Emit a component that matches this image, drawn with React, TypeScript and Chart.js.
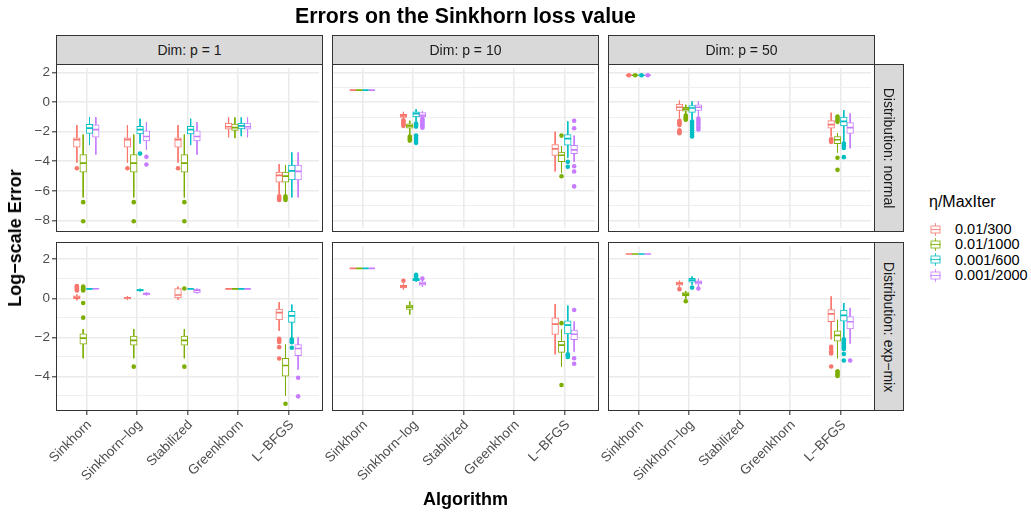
import React, { useEffect, useRef } from "react";
import { Chart, registerables } from "chart.js";
Chart.register(...registerables);

// ---------------- data ----------------
const algorithms = ["Sinkhorn", "Sinkhorn\u2212log", "Stabilized", "Greenkhorn", "L\u2212BFGS"];
const settings = ["0.01/300", "0.01/1000", "0.001/600", "0.001/2000"];
const colors = ["#F8766D", "#7CAE00", "#00BFC4", "#C77CFF"];
const dims = ["Dim: p = 1", "Dim: p = 10", "Dim: p = 50"];
const dists = ["Distribution: normal", "Distribution: exp\u2212mix"];
const yTicksNormal = [-8, -7, -6, -5, -4, -3, -2, -1, 0, 1, 2];
const yTicksExp = [-5, -4, -3, -2, -1, 0, 1, 2];
const yRangeNormal = [-8.52, 2.32];
const yRangeExp = [-5.77, 2.68];

// box stats: [lowerWhisker, q1, median, q3, upperWhisker]; rows = settings, columns = algorithms
const boxNormalP1 = [
  [[-4.09, -3.05, -2.54, -2.41, -1.55], [-4.09, -3.05, -2.54, -2.41, -1.55], [-4.09, -3.05, -2.54, -2.41, -1.55], [-2.37, -1.83, -1.66, -1.42, -1.03], [-6.24, -5.42, -4.95, -4.73, -4.19]],
  [[-6.45, -4.73, -4.13, -3.55, -2.19], [-6.45, -4.73, -4.13, -3.55, -2.19], [-6.45, -4.73, -4.13, -3.55, -2.19], [-2.43, -1.91, -1.72, -1.48, -1.03], [-6.24, -5.42, -5.0, -4.73, -4.25]],
  [[-2.9, -2.11, -1.76, -1.5, -1.01], [-2.8, -2.15, -1.85, -1.63, -1.12], [-2.9, -2.15, -1.85, -1.63, -1.12], [-2.3, -1.8, -1.6, -1.42, -1.03], [-6.45, -5.27, -4.65, -4.26, -3.4]],
  [[-3.55, -2.37, -1.85, -1.53, -1.01], [-3.23, -2.62, -2.32, -1.94, -1.35], [-3.55, -2.62, -2.32, -1.94, -1.35], [-2.37, -1.83, -1.66, -1.42, -1.03], [-6.45, -5.27, -4.69, -4.26, -3.4]],
];
const outNormalP1 = [
  [[-4.47], [-4.47], [-4.47], [], [-6.38, -6.5, -6.62]],
  [[-6.77, -8.06], [-6.77, -8.06], [-6.77, -8.06], [], [-6.38, -6.5, -6.62]],
  [[], [-3.48], [], [], []],
  [[], [-3.7, -4.22], [], [], []],
];

const boxNormalP10 = [
  [[0.82, 0.82, 0.82, 0.82, 0.82], [-1.1, -1.03, -0.93, -0.82, -0.65], null, null, [-4.69, -3.61, -3.16, -2.86, -2.0]],
  [[0.82, 0.82, 0.82, 0.82, 0.82], [-2.19, -1.76, -1.6, -1.46, -1.25], null, null, [-4.8, -4.02, -3.59, -3.38, -2.97]],
  [[0.82, 0.82, 0.82, 0.82, 0.82], [-1.3, -0.99, -0.77, -0.65, -0.47], null, null, [-3.76, -2.9, -2.47, -2.19, -1.29]],
  [[0.82, 0.82, 0.82, 0.82, 0.82], [-1.02, -0.99, -0.88, -0.7, -0.62], null, null, [-4.04, -3.48, -3.23, -2.92, -2.26]],
];
const outNormalP10 = [
  [[], [-1.22, -1.32, -1.42, -1.52, -1.6], [], [], []],
  [[], [-2.32, -2.45, -2.6], [], [], [-2.26, -5.01]],
  [[], [-1.45, -1.55, -1.65, -2.25, -2.4, -2.55, -2.75], [], [], [-4.04, -4.37]],
  [[], [-1.12, -1.22, -1.32, -1.42, -1.52, -1.62, -1.72], [], [], [-1.25, -1.76, -4.34, -4.69, -5.7]],
];

const boxNormalP50 = [
  [[1.83, 1.83, 1.83, 1.83, 1.83], [-1.08, -0.56, -0.34, -0.13, 0.11], null, null, [-2.32, -1.76, -1.51, -1.25, -0.71]],
  [[1.83, 1.83, 1.83, 1.83, 1.83], [-0.8, -0.6, -0.47, -0.34, -0.17], null, null, [-3.4, -2.8, -2.54, -2.32, -2.1]],
  [[1.83, 1.83, 1.83, 1.83, 1.83], [-1.18, -0.69, -0.39, -0.22, 0.06], null, null, [-2.69, -1.61, -1.29, -1.01, -0.54]],
  [[1.83, 1.83, 1.83, 1.83, 1.83], [-1.0, -0.56, -0.34, -0.17, 0.06], null, null, [-3.12, -2.11, -1.72, -1.38, -0.75]],
];
const outNormalP50 = [
  [[1.83], [-1.25, -1.35, -1.45, -1.55, -1.9, -2.0, -2.1], [], [], [-2.5, -2.6, -2.69]],
  [[1.83], [-0.9, -1.0, -1.1, -1.18], [], [], [-0.97, -1.1, -1.2, -1.33, -3.76, -4.58]],
  [[1.83], [-1.3, -1.45, -1.6, -1.75, -1.9, -2.05, -2.2, -2.32], [], [], [-2.8, -2.95, -3.1, -3.72]],
  [[1.83], [-1.1, -1.25, -1.4, -1.55, -1.7, -1.85], [], [], []],
];

const boxExpP1 = [
  [[-0.1, -0.02, 0.05, 0.13, 0.2], [-0.08, -0.03, 0.02, 0.05, 0.1], [-0.07, 0.02, 0.17, 0.5, 0.6], [0.46, 0.47, 0.48, 0.49, 0.5], [-1.67, -1.1, -0.73, -0.55, -0.2]],
  [[-3.07, -2.35, -2.04, -1.82, -1.57], [-3.07, -2.4, -2.15, -1.93, -1.57], [-3.07, -2.4, -2.15, -1.93, -1.57], [0.46, 0.47, 0.48, 0.49, 0.5], [-4.98, -3.98, -3.44, -3.07, -2.37]],
  [[0.46, 0.47, 0.48, 0.49, 0.5], [0.35, 0.38, 0.42, 0.45, 0.49], [0.47, 0.47, 0.48, 0.49, 0.5], [0.46, 0.47, 0.48, 0.49, 0.5], [-2.05, -1.23, -0.9, -0.67, -0.32]],
  [[0.47, 0.48, 0.49, 0.5, 0.51], [0.15, 0.18, 0.23, 0.28, 0.31], [0.25, 0.28, 0.41, 0.48, 0.5], [0.46, 0.47, 0.48, 0.49, 0.5], [-3.65, -2.94, -2.57, -2.37, -2.0]],
];
const outExpP1 = [
  [[0.4, 0.45, 0.5, 0.55, 0.6, 0.63], [], [], [], [-2.07, -2.15, -2.23, -2.5, -3.08]],
  [[0.4, 0.45, 0.5, 0.55, 0.6, -0.24, -0.99], [-3.5], [-3.5, 0.5], [], [-5.4]],
  [[], [], [], [], [-2.1, -2.18, -2.25, -2.53]],
  [[], [], [], [], [-4.07, -5.02]],
];

const boxExpP10 = [
  [[1.53, 1.53, 1.53, 1.53, 1.53], [0.45, 0.53, 0.6, 0.67, 0.75], null, null, [-2.87, -1.85, -1.32, -1.0, -0.29]],
  [[1.53, 1.53, 1.53, 1.53, 1.53], [-0.83, -0.57, -0.45, -0.34, -0.16], null, null, [-3.49, -2.77, -2.4, -2.2, -1.6]],
  [[1.53, 1.53, 1.53, 1.53, 1.53], [0.85, 0.9, 0.96, 1.03, 1.1], null, null, [-2.77, -1.82, -1.37, -1.15, -0.37]],
  [[1.53, 1.53, 1.53, 1.53, 1.53], [0.6, 0.68, 0.76, 0.85, 0.9], null, null, [-2.73, -2.12, -1.84, -1.62, -1.19]],
];
const outExpP10 = [
  [[], [0.9], [], [], []],
  [[], [], [], [], [-1.27, -4.44]],
  [[], [1.13, 1.2], [], [], [-2.87, -2.93, -3.0]],
  [[], [1.01], [], [], [-0.6, -3.07, -3.35]],
];

const boxExpP50 = [
  [[2.27, 2.27, 2.27, 2.27, 2.27], [0.6, 0.68, 0.75, 0.83, 0.9], null, null, [-2.1, -1.2, -0.8, -0.57, 0.1]],
  [[2.27, 2.27, 2.27, 2.27, 2.27], [-0.05, 0.13, 0.22, 0.3, 0.38], null, null, [-3.07, -2.2, -1.9, -1.67, -1.1]],
  [[2.27, 2.27, 2.27, 2.27, 2.27], [0.7, 0.83, 0.93, 1.02, 1.12], null, null, [-2.0, -1.17, -0.87, -0.6, -0.24]],
  [[2.27, 2.27, 2.27, 2.27, 2.27], [0.6, 0.73, 0.82, 0.9, 1.0], null, null, [-2.32, -1.57, -1.2, -0.94, -0.49]],
];
const outExpP50 = [
  [[], [0.47], [], [], [-2.48, -2.6, -2.72, -2.82, -3.49]],
  [[], [-0.15], [], [], [-3.74, -3.82, -3.9, -3.98]],
  [[], [0.55], [], [], [-2.1, -2.2, -2.3, -2.4, -2.5, -2.6, -2.85, -3.18]],
  [[], [0.5], [], [], [-3.18]],
];

// ---------------- layout ----------------
const FONT = "'Liberation Sans', Arial, Helvetica, sans-serif";
const PANEL_LEFT = [56, 332, 608];
const PANEL_W = 267;
const ROW_TOP = [64, 242];
const ROW_H = [168, 169];
const Y_AXIS_W = 56;
const X_AXIS_H = 100;
const BOX_W = 0.13; // width of one box in category units
const DODGE = 0.125; // spacing between the four boxes in category units
const UNIT_PX = PANEL_W / 5.2;

const PANELS = [
  { row: 0, col: 0, box: boxNormalP1, out: outNormalP1 },
  { row: 0, col: 1, box: boxNormalP10, out: outNormalP10 },
  { row: 0, col: 2, box: boxNormalP50, out: outNormalP50 },
  { row: 1, col: 0, box: boxExpP1, out: outExpP1 },
  { row: 1, col: 1, box: boxExpP10, out: outExpP10 },
  { row: 1, col: 2, box: boxExpP50, out: outExpP50 },
];

const fmt = (v: number) => (v < 0 ? "\u2212" + Math.abs(v) : String(v));

function buildConfig(p: any): any {
  const showX = p.row === 1;
  const showY = p.col === 0;
  const yTicks = p.row === 0 ? yTicksNormal : yTicksExp;
  const yRange = p.row === 0 ? yRangeNormal : yRangeExp;
  const datasets: any[] = [];
  p.box.forEach((series: any[], s: number) => {
    const off = (s - 1.5) * DODGE;
    const bars: any[] = [];
    const whisk: any[] = [];
    const meds: any[] = [];
    const pts: any[] = [];
    series.forEach((st: number[] | null, a: number) => {
      if (!st) return;
      const x = a + 1 + off;
      const [lo, q1, med, q3, hi] = st;
      if (q3 > q1) bars.push({ x, y: [q1, q3] });
      whisk.push({ x, y: hi }, { x, y: q3 }, { x, y: null }, { x, y: q1 }, { x, y: lo }, { x, y: null });
      meds.push({ x: x - DODGE / 2, y: med }, { x: x + DODGE / 2, y: med }, { x, y: null });
    });
    p.out[s].forEach((vals: number[], a: number) => {
      vals.forEach((v) => pts.push({ x: a + 1 + off, y: v }));
    });
    datasets.push({
      type: "bar",
      label: settings[s],
      data: bars,
      backgroundColor: "#FFFFFF",
      borderColor: colors[s],
      borderWidth: 1,
      borderSkipped: false,
      grouped: false,
      barThickness: UNIT_PX * BOX_W,
      order: 3,
    });
    datasets.push({
      type: "line",
      label: settings[s] + " whiskers",
      data: whisk,
      borderColor: colors[s],
      borderWidth: 1,
      pointRadius: 0,
      spanGaps: false,
      fill: false,
      tension: 0,
      order: 2,
    });
    datasets.push({
      type: "line",
      label: settings[s] + " median",
      data: meds,
      borderColor: colors[s],
      borderWidth: 1.7,
      pointRadius: 0,
      spanGaps: false,
      fill: false,
      tension: 0,
      order: 1,
    });
    datasets.push({
      type: "scatter",
      label: settings[s] + " outliers",
      data: pts,
      pointRadius: 2.3,
      pointBackgroundColor: colors[s],
      pointBorderWidth: 0,
      showLine: false,
      order: 0,
    });
  });

  const tickFont = { family: FONT, size: 13.5 };
  return {
    type: "bar",
    data: { datasets },
    options: {
      animation: false,
      responsive: false,
      maintainAspectRatio: false,
      events: [],
      layout: { padding: 0 },
      plugins: { legend: { display: false }, tooltip: { enabled: false }, title: { display: false } },
      scales: {
        x: {
          type: "linear",
          min: 0.4,
          max: 5.6,
          offset: false,
          afterBuildTicks: (sc: any) => {
            sc.ticks = algorithms.map((_, i) => ({ value: i + 1 }));
          },
          afterFit: (sc: any) => {
            sc.height = showX ? X_AXIS_H : 0;
            sc.paddingLeft = 0;
            sc.paddingRight = 0;
            sc.paddingTop = 0;
            sc.paddingBottom = 0;
          },
          ticks: {
            display: showX,
            autoSkip: false,
            minRotation: 45,
            maxRotation: 45,
            padding: 2,
            labelOffset: 3,
            color: "#4D4D4D",
            font: tickFont,
            callback: (v: number) => algorithms[Math.round(v) - 1] ?? "",
          },
          grid: {
            color: "#EBEBEB",
            lineWidth: 1.6,
            offset: false,
            drawTicks: showX,
            tickLength: 4,
            tickColor: "#333333",
            tickWidth: 1.1,
          },
          border: { display: false },
        },
        y: {
          type: "linear",
          min: yRange[0],
          max: yRange[1],
          afterBuildTicks: (sc: any) => {
            sc.ticks = yTicks.map((v) => ({ value: v }));
          },
          afterFit: (sc: any) => {
            sc.width = Y_AXIS_W;
            sc.paddingTop = 0;
            sc.paddingBottom = 0;
          },
          ticks: {
            display: showY,
            padding: 2,
            color: "#4D4D4D",
            font: tickFont,
            callback: (v: number) => (Math.abs(v % 2) === 0 ? fmt(v) : ""),
          },
          grid: {
            color: "#EBEBEB",
            lineWidth: (ctx: any) => (ctx.tick && Math.abs(ctx.tick.value % 2) === 0 ? 1.6 : 0.8),
            drawTicks: showY,
            tickLength: 4,
            tickWidth: 1.1,
            tickColor: (ctx: any) => (ctx.tick && Math.abs(ctx.tick.value % 2) === 0 ? "#333333" : "rgba(0,0,0,0)"),
          },
          border: { display: false },
        },
      },
    },
  };
}

function LegendKey({ color }: { color: string }) {
  return (
    <svg width={11} height={13} style={{ position: "absolute", left: 930, top: -6.5 }}>
      <line x1={5.5} y1={0} x2={5.5} y2={3} stroke={color} strokeWidth={1} opacity={0.8} />
      <line x1={5.5} y1={10} x2={5.5} y2={13} stroke={color} strokeWidth={1} opacity={0.8} />
      <rect x={1} y={3} width={9} height={7} fill="#fff" stroke={color} strokeWidth={1} opacity={0.8} />
      <line x1={1} y1={6.5} x2={10} y2={6.5} stroke={color} strokeWidth={1.2} opacity={0.8} />
    </svg>
  );
}

export default function App() {
  const refs = useRef<(HTMLCanvasElement | null)[]>([]);
  useEffect(() => {
    const charts = PANELS.map((p, i) => new Chart(refs.current[i] as HTMLCanvasElement, buildConfig(p)));
    return () => charts.forEach((c) => c.destroy());
  }, []);

  const legendY = [229, 244.3, 259.7, 275];

  return (
    <div
      style={{
        position: "absolute",
        left: 0,
        top: 0,
        width: 1031,
        height: 514,
        background: "#FFFFFF",
        fontFamily: FONT,
        overflow: "hidden",
      }}
    >
      {PANELS.map((p, i) => {
        const w = Y_AXIS_W + PANEL_W;
        const h = ROW_H[p.row] + (p.row === 1 ? X_AXIS_H : 0);
        return (
          <canvas
            key={"c" + i}
            ref={(el) => {
              refs.current[i] = el;
            }}
            width={w}
            height={h}
            style={{
              position: "absolute",
              left: PANEL_LEFT[p.col] - Y_AXIS_W,
              top: ROW_TOP[p.row],
              width: w,
              height: h,
              display: "block",
            }}
          />
        );
      })}

      {/* panel borders */}
      {PANELS.map((p, i) => (
        <div
          key={"b" + i}
          style={{
            position: "absolute",
            left: PANEL_LEFT[p.col],
            top: ROW_TOP[p.row],
            width: PANEL_W,
            height: ROW_H[p.row],
            border: "1px solid #333333",
            boxSizing: "border-box",
            pointerEvents: "none",
          }}
        />
      ))}

      {/* top strips */}
      {dims.map((d, c) => (
        <div
          key={"s" + c}
          style={{
            position: "absolute",
            left: PANEL_LEFT[c],
            top: 35,
            width: PANEL_W,
            height: 30,
            border: "1px solid #333333",
            boxSizing: "border-box",
            background: "#D9D9D9",
            display: "flex",
            alignItems: "center",
            justifyContent: "center",
            fontSize: 14,
            color: "#1A1A1A",
            whiteSpace: "nowrap",
          }}
        >
          {d}
        </div>
      ))}

      {/* right strips */}
      {dists.map((d, r) => (
        <div
          key={"r" + r}
          style={{
            position: "absolute",
            left: 874,
            top: ROW_TOP[r],
            width: 30,
            height: ROW_H[r],
            border: "1px solid #333333",
            boxSizing: "border-box",
            background: "#D9D9D9",
          }}
        >
          <div
            style={{
              position: "absolute",
              left: "50%",
              top: "50%",
              transform: "translate(-50%, -50%) rotate(90deg)",
              fontSize: 14,
              lineHeight: "14px",
              color: "#1A1A1A",
              whiteSpace: "nowrap",
            }}
          >
            {d}
          </div>
        </div>
      ))}

      {/* title */}
      <div
        style={{
          position: "absolute",
          left: 56,
          width: 819,
          top: 5.5,
          textAlign: "center",
          fontSize: 21.3,
          lineHeight: "21px",
          fontWeight: "bold",
          color: "#000",
          whiteSpace: "nowrap",
        }}
      >
        Errors on the Sinkhorn loss value
      </div>

      {/* x title */}
      <div
        style={{
          position: "absolute",
          left: 56,
          width: 819,
          top: 490,
          textAlign: "center",
          fontSize: 18,
          lineHeight: "18px",
          fontWeight: "bold",
          color: "#000",
        }}
      >
        Algorithm
      </div>

      {/* y title */}
      <div
        style={{
          position: "absolute",
          left: 15,
          top: 237.5,
          transform: "translate(-50%, -50%) rotate(-90deg)",
          fontSize: 18,
          lineHeight: "18px",
          fontWeight: "bold",
          color: "#000",
          whiteSpace: "nowrap",
        }}
      >
        Log{"\u2212"}scale Error
      </div>

      {/* legend */}
      <div
        style={{
          position: "absolute",
          left: 929,
          top: 193.5,
          fontSize: 16,
          lineHeight: "16px",
          color: "#000",
          whiteSpace: "nowrap",
        }}
      >
        {"\u03B7/MaxIter"}
      </div>
      {settings.map((s, i) => (
        <div key={"l" + i} style={{ position: "absolute", left: 0, top: legendY[i], width: 1031, height: 0 }}>
          <LegendKey color={colors[i]} />
          <div
            style={{
              position: "absolute",
              left: 955,
              top: -7,
              fontSize: 14.5,
              lineHeight: "14px",
              color: "#000",
              whiteSpace: "nowrap",
            }}
          >
            {s}
          </div>
        </div>
      ))}
    </div>
  );
}
